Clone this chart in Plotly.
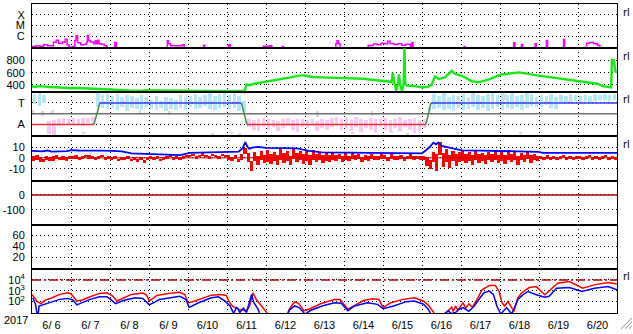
import plotly.graph_objects as go
from plotly.subplots import make_subplots

# ---------------- data ----------------
day_labels = ["6/ 6", "6/ 7", "6/ 8", "6/ 9", "6/10", "6/11", "6/12", "6/13",
              "6/14", "6/15", "6/16", "6/17", "6/18", "6/19", "6/20"]
year_label = "2017"
n_days = 15

# X-ray flux (W/m2), (day, flux); 3e-8 = below B level
xray_points = [
    (0.00, 1.15e-7), (0.10, 1.3e-7), (0.20, 1.2e-7), (0.30, 1.6e-7), (0.40, 1.3e-7),
    (0.55, 2.8e-7), (0.62, 4.3e-7), (0.68, 2.2e-7), (0.78, 3.0e-7), (0.85, 5.3e-7),
    (0.90, 1.6e-7), (0.95, 1.0e-7), (1.05, 1.1e-7), (1.10, 4.0e-7), (1.13, 1.1e-6),
    (1.17, 2.5e-7), (1.25, 1.6e-7), (1.35, 1.8e-7), (1.40, 3.0e-7), (1.42, 1.2e-6),
    (1.45, 4.0e-7), (1.50, 3.0e-7), (1.58, 2.0e-7), (1.62, 3.8e-7), (1.66, 2.0e-7),
    (1.69, 4.3e-7), (1.72, 2.0e-7), (1.78, 1.8e-7), (1.85, 1.3e-7), (1.92, 3e-8),
    (2.12, 2.6e-7), (2.16, 3e-8), (3.47, 3.8e-7), (3.50, 2.2e-7), (3.55, 1.3e-7),
    (3.85, 1.6e-7), (3.90, 3e-8), (4.40, 1.5e-7), (4.43, 3e-8), (5.04, 1.6e-7),
    (5.08, 3e-8), (5.93, 1.2e-7), (6.10, 1.3e-7), (6.15, 3e-8), (6.42, 1.1e-7),
    (6.45, 3e-8), (7.79, 2.0e-7), (7.82, 3.8e-7), (7.86, 2.0e-7), (7.90, 3e-8),
    (8.62, 1.4e-7), (8.75, 1.9e-7), (8.85, 1.6e-7), (8.95, 2.3e-7), (9.05, 2.0e-7),
    (9.12, 3.5e-7), (9.18, 2.2e-7), (9.28, 1.7e-7), (9.38, 2.0e-7), (9.48, 1.5e-7),
    (9.58, 1.8e-7), (9.70, 3e-8), (9.74, 2.5e-7), (9.77, 3e-8), (11.08, 1.1e-7),
    (11.10, 3e-8), (12.35, 2.5e-7), (12.38, 3e-8), (12.55, 1.7e-7), (12.58, 3e-8),
    (12.90, 2.0e-7), (12.93, 3e-8), (13.19, 4.0e-7), (13.22, 3e-8), (13.63, 5.0e-7),
    (13.66, 3e-8), (14.22, 2.3e-7), (14.30, 2.6e-7), (14.40, 2.0e-7), (14.50, 1.5e-7),
    (14.56, 3e-8),
]

# solar wind speed (km/s), (day, speed)
wind_points = [
    (0.00, 375), (0.10, 370), (0.20, 380), (0.30, 372), (0.45, 365), (0.60, 362),
    (0.80, 352), (1.00, 346), (1.20, 350), (1.40, 342), (1.60, 335), (1.80, 330),
    (2.00, 318), (2.20, 312), (2.50, 310), (2.80, 306), (3.00, 312), (3.30, 308),
    (3.60, 304), (4.00, 307), (4.30, 303), (4.60, 300), (5.00, 302), (5.30, 305),
    (5.45, 300), (5.50, 405), (5.60, 400), (5.70, 420), (5.92, 445), (6.10, 462),
    (6.35, 496), (6.55, 510), (6.77, 532), (6.94, 560), (7.05, 545), (7.20, 530),
    (7.43, 523), (7.70, 520), (8.00, 515), (8.28, 510), (8.50, 500), (8.71, 485),
    (8.97, 470), (9.15, 455), (9.22, 443), (9.25, 600), (9.29, 440), (9.34, 300),
    (9.38, 420), (9.41, 570), (9.44, 400), (9.49, 300), (9.53, 420), (9.55, 1000),
    (9.57, 420), (9.61, 390), (9.80, 380), (10.00, 363), (10.15, 370), (10.25, 405),
    (10.33, 539), (10.42, 496), (10.59, 523), (10.76, 629), (10.85, 580), (11.02, 549),
    (11.27, 462), (11.45, 443), (11.70, 485), (12.04, 570), (12.30, 590), (12.50, 605),
    (12.90, 560), (13.35, 520), (13.80, 475), (14.27, 445), (14.50, 420), (14.63, 380),
    (14.78, 365), (14.85, 360), (14.87, 810), (14.92, 800), (14.96, 620), (15.00, 600),
]

# IMF sector: +1 = Toward, -1 = Away
sector_node_t = [0, 1.59, 1.74, 5.37, 5.51, 10.10, 10.23, 15]
sector_node_v = [-1, -1, 1, 1, -1, -1, 1, 1]
# 3-hour bins of IMF direction spread (lo, hi)
phi_bins = [
    (0.9, 1.8), (0.7, 1.9), (1.0, 1.7), (-1.9, -0.7), (-2.0, -0.6), (-1.2, -0.5), (-1.1, -0.4), (-1.0, -0.5),
    (-1.1, -0.4), (-1.0, -0.5), (-1.2, -0.4), (-0.9, -0.4), (-1.0, -0.3), (0.6, 1.9), (0.5, 1.7), (0.4, 1.8),
    (0.5, 1.6), (0.3, 1.8), (0.6, 1.5), (0.2, 1.7), (0.5, 1.6), (0.4, 1.4), (0.3, 1.7), (0.6, 1.5),
    (0.4, 1.3), (0.3, 1.6), (0.5, 1.2), (0.2, 1.5), (0.4, 1.4), (0.3, 1.3), (0.5, 1.7), (0.3, 1.5),
    (0.6, 1.6), (0.4, 1.8), (0.5, 1.5), (0.7, 1.7), (0.4, 1.9), (0.3, 1.6), (0.5, 1.8), (0.6, 1.9),
    (0.4, 1.7), (0.5, 1.9), (0.2, 1.6), (0.1, 1.2), (-1.3, -0.5), (-1.5, -0.6), (-1.6, -0.5), (-1.2, -0.4),
    (-1.5, -0.5), (-1.3, -0.6), (-1.6, -0.7), (-1.4, -0.5), (-1.2, -0.4), (-1.5, -0.6), (-1.7, -0.5), (-1.3, -0.5),
    (-1.4, -0.6), (-1.2, -0.5), (-1.6, -0.7), (-1.4, -0.5), (-1.5, -0.6), (-1.3, -0.4), (-1.2, -0.3), (-1.5, -0.5),
    (-1.4, -0.4), (-1.6, -0.6), (-1.3, -0.3), (-1.7, -0.5), (-1.4, -0.6), (-1.5, -0.4), (-1.8, -0.5), (-1.2, -0.5),
    (-1.5, -0.4), (-1.7, -0.6), (-1.4, -0.5), (-1.6, -0.3), (-1.3, -0.6), (-1.5, -0.5), (-1.8, -0.4), (-1.6, -0.6),
    (-1.4, -0.5), (0.2, 0.6), (0.4, 1.8), (0.5, 1.6), (0.3, 1.9), (0.4, 1.5), (0.2, 1.7), (0.5, 1.6),
    (0.3, 1.8), (0.4, 1.5), (0.6, 1.9), (0.3, 1.7), (0.5, 1.6), (0.2, 1.8), (0.4, 1.9), (0.6, 1.7),
    (0.3, 1.9), (0.5, 1.7), (0.4, 1.8), (0.6, 1.6), (0.3, 1.7), (0.5, 1.9), (0.7, 1.8), (0.6, 1.5),
    (0.6, 1.7), (0.8, 1.6), (0.5, 1.8), (0.4, 1.5), (1.0, 1.7), (1.1, 1.6), (1.0, 1.8), (1.2, 1.7),
    (1.1, 1.6), (1.2, 1.7), (1.1, 1.6), (1.2, 1.8), (1.3, 1.7), (1.3, 1.8), (1.2, 1.7), (1.3, 1.8),
]
bin_days = 0.125
# undetermined-direction samples (day, lo, hi)
phi_gray = [
    (0.00, -0.1, 0.3), (0.25, -0.2, 0.2), (0.50, 0.0, 0.3), (1.30, -1.9, -1.7), (2.75, 0.0, 0.3),
    (3.50, -0.1, 0.2), (4.60, -2.0, -1.8), (5.10, -1.9, -1.7), (5.30, -2.0, -1.8), (7.30, -0.3, 0.2),
    (8.20, -1.9, -1.7), (8.70, -0.2, 0.2), (9.20, -1.8, -1.6), (9.60, -2.0, -1.8), (10.90, -1.9, -1.7),
    (12.10, 1.3, 1.8), (12.30, 1.4, 1.9), (12.50, -1.9, -1.7),
]

# IMF |B| (nT), (day, Bt)
bt_points = [
    (0.0, 6.4), (0.25, 6.0), (0.4, 6.8), (0.5, 5.8), (0.9, 6.2), (1.0, 7.2), (1.2, 6.8), (1.5, 7.0),
    (1.8, 6.6), (2.05, 6.4), (2.3, 6.0), (2.55, 4.2), (2.8, 4.0), (3.0, 3.4), (3.4, 3.0), (3.8, 2.6),
    (4.05, 4.6), (4.5, 5.0), (4.9, 4.8), (5.05, 5.5), (5.3, 5.8), (5.4, 9.0), (5.47, 14.5), (5.52, 10.5),
    (5.57, 8.5), (5.65, 9.5), (5.8, 10.2), (6.0, 9.2), (6.4, 9.0), (6.8, 8.8), (6.95, 7.5), (7.1, 6.4),
    (7.43, 5.0), (8.0, 4.8), (8.5, 5.0), (9.0, 4.2), (9.5, 4.0), (10.0, 4.2), (10.1, 7.0), (10.2, 10.0),
    (10.29, 14.0), (10.36, 12.5), (10.42, 14.2), (10.5, 11.0), (10.7, 9.5), (10.85, 8.0), (11.02, 7.0),
    (11.5, 6.6), (12.13, 6.4), (12.5, 5.8), (12.98, 5.6), (13.1, 4.6), (14.0, 4.5), (15.0, 4.6),
]
# IMF Bz (nT): (min, max) in 2-hour bins, 12 per day
bz_range_2h = [
    (-3, 1), (-2, 2), (-4, 0), (-4, -1), (-2, 1), (-3, 0), (-3, 1), (-1, 2), (-2, 0), (-2, 1), (-3, 0), (-1, 1),
    (-1, 1), (-1, 2), (-2, 0), (-1, 1), (0, 2), (-1, 2), (-1, 1), (-2, 0), (-1, 1), (0, 2), (-2, 0), (-1, 1),
    (-2, 0), (-1, 1), (-3, -1), (-2, 0), (-2, 0), (-1, 1), (-3, -1), (-2, 0), (-4, -1), (-2, 0), (-5, -2), (-2, 0),
    (-1, 1), (-2, 0), (-1, 1), (-3, -1), (-2, 0), (-1, 1), (0, 2), (-2, 0), (-1, 1), (-2, 0), (-1, 1), (0, 2),
    (0, 2), (1, 3), (-1, 1), (0, 2), (1, 4), (0, 2), (-1, 1), (1, 3), (0, 2), (-1, 1), (1, 3), (0, 2),
    (-2, 2), (-3, 0), (-1, 2), (-4, -1), (-2, 3), (3, 9), (-4, 4), (-13, -3), (-3, 5), (-7, 1), (-2, 6), (-5, 2),
    (-4, 7), (-6, 3), (-3, 5), (-7, 2), (-2, 8), (-5, 4), (-3, 6), (-7, 1), (-1, 8), (-4, 4), (-2, 6), (-6, 3),
    (-3, 6), (-7, 2), (-2, 7), (-4, 3), (-2, 5), (-5, 2), (-3, 4), (-4, 2), (-2, 4), (-3, 2), (-1, 3), (-4, 1),
    (-2, 4), (-3, 1), (-1, 5), (-2, 2), (-1, 3), (-4, 0), (-2, 2), (-3, 1), (-1, 3), (-2, 1), (-2, 1), (-1, 3),
    (-1, 2), (-3, 0), (-1, 3), (-2, 1), (-2, 1), (-1, 2), (-3, 0), (-1, 1), (-1, 3), (-2, 1), (-1, 1), (-2, 1),
    (-2, 1), (-8, 0), (-11, -2), (-4, 5), (-13, 3), (2, 14), (-9, 4), (-4, 8), (-10, 2), (-3, 6), (-8, 3), (-4, 5),
    (-3, 6), (-5, 3), (-3, 5), (-7, 2), (-2, 7), (-5, 3), (-3, 4), (-6, 2), (-2, 5), (-4, 3), (-2, 6), (-5, 2),
    (-3, 5), (-6, 2), (-2, 7), (-4, 3), (-2, 5), (-7, 1), (-2, 4), (-4, 2), (-1, 6), (-5, 2), (-2, 3), (-3, 1),
    (-1, 1), (-2, 0), (-1, 2), (-2, 0), (-1, 1), (-2, 0), (-1, 1), (0, 2), (-2, 0), (-1, 1), (-2, 0), (-1, 1),
    (-1, 1), (-2, 0), (-1, 1), (0, 2), (-2, 0), (-1, 1), (-2, 0), (-1, 1), (0, 2), (-2, 0), (-1, 1), (-2, 0),
]
bz_step_days = 1 / 12

dst_reference = 0          # Dst panel: only the zero reference line
electron_alert = 1e4       # >2 MeV electron alert level

# electron flux, log10, (day, value)
e_red_log = [
    (0.00, 2.67), (0.135, 2.0), (0.23, 1.82), (0.33, 2.12), (0.52, 2.36), (0.71, 2.67), (0.91, 2.82),
    (1.00, 2.73), (1.15, 2.06), (1.29, 2.15), (1.49, 2.45), (1.73, 2.76), (1.92, 2.82), (2.07, 2.52),
    (2.18, 2.06), (2.36, 2.36), (2.55, 2.67), (2.84, 2.79), (2.94, 2.6), (3.01, 2.06), (3.2, 2.57),
    (3.5, 2.75), (3.79, 2.87), (3.92, 2.66), (4.00, 1.9), (4.1, 1.96), (4.27, 2.2), (4.6, 2.6),
    (4.84, 2.66), (4.98, 2.57), (5.07, 1.9), (5.15, 1.55), (5.3, 1.3), (5.5, 1.15), (5.58, 1.6),
    (5.67, 2.8), (5.75, 2.2), (5.92, 1.45), (6.05, 0.85), (6.55, 0.85), (6.6, 1.3), (6.73, 2.0),
    (6.85, 1.8), (6.97, 1.15), (7.1, 1.3), (7.4, 1.8), (7.75, 2.2), (7.9, 2.2), (8.1, 1.3),
    (8.3, 1.7), (8.5, 2.1), (8.73, 2.27), (8.9, 2.2), (9.0, 1.45), (9.2, 1.9), (9.51, 2.21),
    (9.8, 2.36), (10.04, 2.06), (10.18, 1.6), (10.33, 0.85), (10.57, 0.85), (10.67, 1.15),
    (10.76, 1.5), (10.80, 1.1), (10.86, 1.6), (10.92, 1.2), (11.05, 1.91), (11.12, 1.4),
    (11.20, 1.8), (11.29, 1.5), (11.36, 1.9), (11.44, 2.4), (11.54, 3.1), (11.73, 3.5),
    (11.88, 3.5), (11.98, 2.9), (12.05, 1.9), (12.12, 1.6), (12.2, 2.0), (12.28, 1.5),
    (12.36, 1.1), (12.45, 2.3), (12.55, 2.8), (12.75, 3.3), (12.93, 3.39), (13.15, 2.64),
    (13.48, 3.7), (13.78, 3.85), (14.12, 3.24), (14.42, 3.55), (14.77, 3.76), (15.0, 3.62),
]
e_blue_log = [
    (0.02, 2.36), (0.09, 1.76), (0.13, 0.85), (0.16, 0.85), (0.18, 1.6), (0.33, 1.76), (0.52, 2.0),
    (0.71, 2.21), (0.91, 2.3), (1.05, 2.15), (1.15, 1.7), (1.29, 1.91), (1.49, 2.21), (1.73, 2.45),
    (1.92, 2.45), (2.02, 2.21), (2.14, 1.82), (2.36, 2.12), (2.65, 2.36), (2.84, 2.3), (3.01, 1.7),
    (3.27, 2.2), (3.79, 2.5), (3.95, 2.2), (4.03, 1.46), (4.27, 1.9), (4.6, 2.36), (4.78, 2.45),
    (4.95, 2.05), (5.08, 1.6), (5.17, 0.9), (5.25, 1.5), (5.33, 1.0), (5.42, 1.4), (5.5, 1.0),
    (5.63, 2.66), (5.69, 1.9), (5.8, 1.3), (5.84, 0.85), (6.55, 0.85), (6.6, 1.2), (6.73, 1.6),
    (6.85, 1.45), (7.0, 0.85), (7.15, 1.2), (7.44, 1.6), (7.75, 1.9), (7.93, 1.85), (8.1, 1.16),
    (8.27, 1.6), (8.6, 1.9), (8.86, 1.75), (9.0, 1.35), (9.27, 1.6), (9.6, 2.0), (9.8, 2.06),
    (10.04, 1.76), (10.16, 1.3), (10.23, 0.85), (10.57, 0.85), (10.67, 1.15), (10.75, 0.9),
    (10.86, 1.0), (10.95, 1.3), (11.05, 1.45), (11.2, 1.1), (11.34, 1.6), (11.49, 2.36),
    (11.59, 2.82), (11.73, 2.97), (11.83, 2.67), (11.92, 1.6), (12.02, 0.85), (12.17, 1.45),
    (12.3, 0.85), (12.46, 2.21), (12.6, 2.67), (12.72, 2.94), (12.93, 2.64), (13.15, 2.4),
    (13.26, 2.5), (13.45, 3.24), (13.78, 3.3), (14.1, 2.94), (14.42, 3.24), (14.77, 3.39),
    (15.0, 3.1),
]

# ---------------- figure ----------------
FONT = "Liberation Sans, Arial, sans-serif"
GRID_DASH = "1px,3px"

fig = make_subplots(rows=7, cols=1, shared_xaxes=True, vertical_spacing=0)

def xs(points):
    return [p[0] for p in points]

def ys(points):
    return [p[1] for p in points]

# 1: X-ray
fig.add_trace(go.Scatter(x=xs(xray_points), y=ys(xray_points), mode="lines",
                         line=dict(color="#ff00ff", width=1.5, shape="hv")), row=1, col=1)
# 2: solar wind
fig.add_trace(go.Scatter(x=xs(wind_points), y=ys(wind_points), mode="lines",
                         line=dict(color="#18e818", width=2.4)), row=2, col=1)
# 3: sector
gray_c = [g[0] + 0.03 for g in phi_gray]
fig.add_trace(go.Bar(x=gray_c, y=[g[2] - g[1] for g in phi_gray], base=[g[1] for g in phi_gray],
                     width=0.05, marker=dict(color="#d8d8d8", line=dict(width=0))), row=3, col=1)
centers = [i * bin_days + bin_days / 2 for i in range(len(phi_bins))]
colors = ["#b4e8f8" if (lo + hi) > 0 else "#f9c8f5" for lo, hi in phi_bins]
fig.add_trace(go.Bar(x=centers, y=[hi - lo for lo, hi in phi_bins], base=[lo for lo, hi in phi_bins],
                     width=bin_days * 0.7, marker=dict(color=colors, line=dict(width=0))), row=3, col=1)
fig.add_trace(go.Scatter(x=[0, n_days], y=[0, 0], mode="lines",
                         line=dict(color="#707070", width=1.5)), row=3, col=1)
for i in range(len(sector_node_t) - 1):
    v0, v1 = sector_node_v[i], sector_node_v[i + 1]
    if v0 == v1 == 1:
        c = "#3a3aff"
    elif v0 == v1 == -1:
        c = "#e03030"
    else:
        c = "#4c8a4c"
    fig.add_trace(go.Scatter(x=sector_node_t[i:i + 2], y=sector_node_v[i:i + 2], mode="lines",
                             line=dict(color=c, width=1.5)), row=3, col=1)
# 4: IMF
fig.add_trace(go.Scatter(x=[0, n_days], y=[0, 0], mode="lines",
                         line=dict(color="#d00000", width=1)), row=4, col=1)
fig.add_trace(go.Scatter(x=xs(bt_points), y=ys(bt_points), mode="lines",
                         line=dict(color="#0000ff", width=1.8)), row=4, col=1)
bz_c = [i * bz_step_days + bz_step_days / 2 for i in range(len(bz_range_2h))]
fig.add_trace(go.Bar(x=bz_c, y=[hi - lo for lo, hi in bz_range_2h], base=[lo for lo, hi in bz_range_2h],
                     width=bz_step_days, marker=dict(color="#ff0000", line=dict(width=0))),
              row=4, col=1)
# 5: Dst
fig.add_trace(go.Scatter(x=[0, n_days], y=[dst_reference, dst_reference], mode="lines",
                         line=dict(color="#b00000", width=1.5)), row=5, col=1)
# 6: empty panel (no data), keeps its axes
fig.add_trace(go.Scatter(x=[0, n_days], y=[None, None], mode="lines",
                         line=dict(color="black", width=1)), row=6, col=1)
# 7: electrons
fig.add_trace(go.Scatter(x=[0, n_days], y=[electron_alert, electron_alert], mode="lines",
                         line=dict(color="#b00000", width=1.5, dash="9px,3px,2px,3px")), row=7, col=1)
fig.add_trace(go.Scatter(x=xs(e_red_log), y=[10 ** v for v in ys(e_red_log)], mode="lines",
                         line=dict(color="#ff0000", width=1.5)), row=7, col=1)
fig.add_trace(go.Scatter(x=xs(e_blue_log), y=[10 ** v for v in ys(e_blue_log)], mode="lines",
                         line=dict(color="#0000ff", width=1.5)), row=7, col=1)

fig.update_layout(
    width=633, height=334, autosize=False,
    margin=dict(l=32, r=16, t=3, b=17, pad=0),
    paper_bgcolor="white", plot_bgcolor="white",
    showlegend=False, barmode="overlay", bargap=0,
    font=dict(family=FONT, size=11, color="black"),
)

fig.update_xaxes(
    range=[0, n_days], tickmode="array",
    tickvals=[i + 0.5 for i in range(n_days)], ticktext=day_labels,
    showgrid=False, ticks="", zeroline=False,
    showline=True, mirror=True, linecolor="black", linewidth=1,
    minor=dict(tickmode="array", tickvals=list(range(1, n_days)), showgrid=True,
               gridcolor="black", griddash=GRID_DASH, gridwidth=1, ticks=""),
    tickfont=dict(family=FONT, size=11, color="black"),
)
for r in range(1, 7):
    fig.update_xaxes(showticklabels=False, row=r, col=1)
fig.update_xaxes(showticklabels=True, ticklabelstandoff=2, row=7, col=1)

common_y = dict(showline=True, mirror=True, linecolor="black", linewidth=1, ticks="",
                showgrid=True, gridcolor="black", griddash=GRID_DASH, gridwidth=1,
                zeroline=False, tickmode="array", ticklabelstandoff=4,
                tickfont=dict(family=FONT, size=11, color="black"))
fig.update_yaxes(row=1, col=1, type="log", range=[-7.1, -3.0],
                 tickvals=[1e-4, 1e-5, 1e-6], ticktext=["X", "M", "C"], **common_y)
fig.update_yaxes(row=2, col=1, range=[280, 1000], tickvals=[800, 600, 400],
                 ticktext=["800", "600", "400"], **common_y)
fig.update_yaxes(row=3, col=1, range=[-2.12, 2.0], tickvals=[1, -1], ticktext=["T", "A"], **common_y)
fig.update_yaxes(row=4, col=1, range=[-21, 19.8], tickvals=[10, 0, -10],
                 ticktext=["10", "0", "-10"], **common_y)
fig.update_yaxes(row=5, col=1, range=[-198, 95], tickvals=[0, -100], ticktext=["0", "-100"], **common_y)
fig.update_yaxes(row=6, col=1, range=[-1.5, 80], tickvals=[60, 40, 20],
                 ticktext=["60", "40", "20"], **common_y)
fig.update_yaxes(row=7, col=1, type="log", range=[0.95, 5.03], tickvals=[1e4, 1e3, 1e2],
                 ticktext=["10<sup>4</sup>", "10<sup>3</sup>", "10<sup>2</sup>"], **common_y)

# annotations (paper coords: plot area 32..617 x, 3..317 y)
def px_x(px):
    return (px - 32) / 585.0

def px_y(py):
    return (317 - py) / 314.0

fig.add_annotation(text=year_label, x=px_x(16), y=px_y(324), xref="paper", yref="paper",
                   showarrow=False, xanchor="center", yanchor="middle",
                   font=dict(family=FONT, size=11, color="black"))
for py in [12, 56, 100, 146, 280]:
    fig.add_annotation(text="rl", x=px_x(621), y=px_y(py), xref="paper", yref="paper",
                       showarrow=False, xanchor="left", yanchor="middle",
                       font=dict(family="DejaVu Sans", size=10, color="black"))
# window resize grip
for k in range(3):
    fig.add_shape(type="line", xref="paper", yref="paper",
                  x0=px_x(621 + 4 * k), y0=px_y(333), x1=px_x(632), y1=px_y(322 + 4 * k),
                  line=dict(color="#909090", width=1))

fig.write_html("out.html")
